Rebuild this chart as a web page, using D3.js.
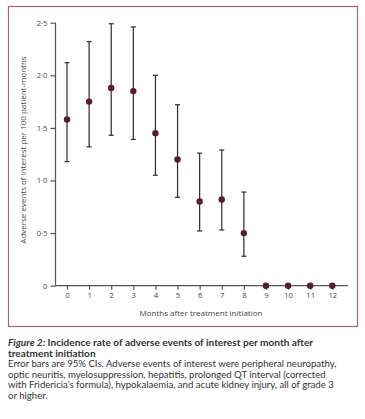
<!DOCTYPE html>
<html><head><meta charset="utf-8">
<script src="https://cdn.jsdelivr.net/npm/d3@7"></script>
<style>
body{margin:0;background:#fff;}
svg{display:block;}
</style></head>
<body>
<script>
const months = [0,1,2,3,4,5,6,7,8,9,10,11,12];
const rate   = [1.58,1.75,1.88,1.85,1.45,1.20,0.80,0.82,0.50,0,0,0,0];
const lower  = [1.18,1.32,1.43,1.39,1.05,0.84,0.52,0.53,0.28,null,null,null,null];
const upper  = [2.12,2.32,2.49,2.46,2.00,1.72,1.26,1.29,0.89,null,null,null,null];
const yTicks = [0,0.5,1.0,1.5,2.0,2.5];

const W=365,H=419;
const svg=d3.select("body").append("svg").attr("width",W).attr("height",H);
const font="'Open Sans', 'Noto Sans', sans-serif";
const capFont="Lato, 'Open Sans', sans-serif";

svg.append("rect").attr("x",8.5).attr("y",6.5).attr("width",349).attr("height",320)
  .attr("fill","none").attr("stroke","#a8637a").attr("stroke-width",1.2);

const x=d3.scaleLinear().domain([0,12]).range([67,332.3]);
const y=d3.scaleLinear().domain([0,2.5]).range([285.7,22.7]);

const axisCol="#555";
const ya=svg.append("g").attr("transform","translate(55.5,0)")
  .call(d3.axisLeft(y).tickValues(yTicks).tickSize(5).tickPadding(3)
   .tickFormat(d=>d===0?"0":d3.format(".1f")(d).replace(".","·")));
ya.select(".domain").attr("d",`M0,${y(0)}V${y(2.5)}`);
const xa=svg.append("g").attr("transform",`translate(0,${y(0)})`)
  .call(d3.axisBottom(x).tickValues(months).tickSize(4).tickPadding(3));
xa.select(".domain").attr("d",`M55.5,0H348`);
[ya,xa].forEach(g=>{
  g.selectAll("path,line").attr("stroke",axisCol).attr("stroke-width",1.2);
  g.selectAll("text").attr("font-family",font).attr("font-size","7.7px").attr("fill","#444");
});

svg.append("text").attr("x",201).attr("y",316).attr("text-anchor","middle")
  .attr("font-family",font).attr("font-size","8px").attr("fill","#444")
  .text("Months after treatment initiation");
svg.append("text").attr("transform","translate(26,150) rotate(-90)").attr("text-anchor","middle")
  .attr("font-family",font).attr("font-size","8px").attr("fill","#444")
  .text("Adverse events of interest per 100 patient-months");

const eb=months.map((m,i)=>({m,lo:lower[i],hi:upper[i],v:rate[i]})).filter(d=>d.lo!==null);
const g=svg.append("g").attr("stroke","#2b2b2b").attr("stroke-width",1.2);
g.selectAll("line.v").data(eb).join("line").attr("x1",d=>x(d.m)).attr("x2",d=>x(d.m))
  .attr("y1",d=>y(d.lo)).attr("y2",d=>y(d.hi));
g.selectAll("line.t").data(eb).join("line").attr("x1",d=>x(d.m)-2.5).attr("x2",d=>x(d.m)+2.5)
  .attr("y1",d=>y(d.hi)).attr("y2",d=>y(d.hi));
g.selectAll("line.b").data(eb).join("line").attr("x1",d=>x(d.m)-2.5).attr("x2",d=>x(d.m)+2.5)
  .attr("y1",d=>y(d.lo)).attr("y2",d=>y(d.lo));

svg.append("g").selectAll("circle").data(months).join("circle")
  .attr("cx",d=>x(d)).attr("cy",(d,i)=>y(rate[i])).attr("r",3.2).attr("fill","#5b1a33");

const cap=svg.append("g").attr("font-family",capFont).attr("fill","#222");
const t1=cap.append("text").attr("x",8).attr("y",346).attr("font-size","10.1px").attr("font-weight","bold").attr("fill","#333");
t1.append("tspan").attr("font-style","italic").text("Figure 2: ");
t1.append("tspan").text("Incidence rate of adverse events of interest per month after");
cap.append("text").attr("x",8).attr("y",356.5).attr("font-size","10.1px").attr("font-weight","bold").attr("fill","#333")
  .text("treatment initiation");
const body=["Error bars are 95% CIs. Adverse events of interest were peripheral neuropathy,",
"optic neuritis, myelosuppression, hepatitis, prolonged QT interval (corrected",
"with Fridericia’s formula), hypokalaemia, and acute kidney injury, all of grade 3",
"or higher."];
body.forEach((s,i)=>cap.append("text").attr("x",8).attr("y",366.8+i*10.7)
  .attr("font-size","9.6px").attr("fill","#333").text(s));
</script>
</body></html>
